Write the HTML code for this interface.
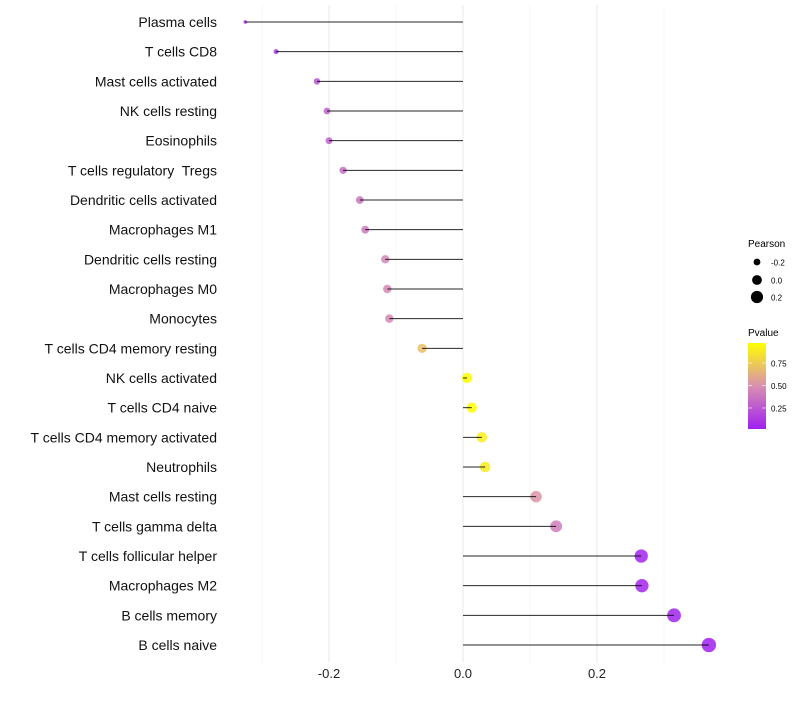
<!DOCTYPE html>
<html><head><meta charset="utf-8"><style>
body{margin:0;background:#fff;font-family:"Liberation Sans",sans-serif}
svg text{font-family:"Liberation Sans",sans-serif;white-space:pre}
</style></head><body>
<svg id="chart" width="800" height="700" xmlns="http://www.w3.org/2000/svg">
<defs><linearGradient id="pgrad" x1="0" y1="1" x2="0" y2="0">
<stop offset="0" stop-color="#a020f0"/><stop offset="0.5" stop-color="#d890b0"/><stop offset="1" stop-color="#ffff00"/></linearGradient></defs>
<g id="grid"></g><g id="marks"></g><g id="labels"></g>
<g>
<text x="748" y="247" font-size="10">Pearson</text>
<circle cx="757" cy="262" r="3.4" fill="#000"/>
<circle cx="757" cy="280" r="4.9" fill="#000"/>
<circle cx="757" cy="297" r="6.1" fill="#000"/>
<text x="771" y="265.5" font-size="8">-0.2</text>
<text x="771" y="283.5" font-size="8">0.0</text>
<text x="771" y="300.5" font-size="8">0.2</text>
</g>
<g>
<text x="748" y="336" font-size="10">Pvalue</text>
<rect x="748" y="343" width="18" height="86" fill="url(#pgrad)"/>
<g stroke="#fff" stroke-opacity="0.6"><line x1="748" x2="752" y1="363" y2="363"/><line x1="762" x2="766" y1="363" y2="363"/><line x1="748" x2="752" y1="385.5" y2="385.5"/><line x1="762" x2="766" y1="385.5" y2="385.5"/><line x1="748" x2="752" y1="408" y2="408"/><line x1="762" x2="766" y1="408" y2="408"/></g>
<text x="771" y="366.5" font-size="8">0.75</text>
<text x="771" y="389" font-size="8">0.50</text>
<text x="771" y="411.5" font-size="8">0.25</text>
</g>
</svg>
<script>
const cells=["Plasma cells","T cells CD8","Mast cells activated","NK cells resting","Eosinophils","T cells regulatory  Tregs","Dendritic cells activated","Macrophages M1","Dendritic cells resting","Macrophages M0","Monocytes","T cells CD4 memory resting","NK cells activated","T cells CD4 naive","T cells CD4 memory activated","Neutrophils","Mast cells resting","T cells gamma delta","T cells follicular helper","Macrophages M2","B cells memory","B cells naive"];
const pearson=[-0.325,-0.279,-0.218,-0.203,-0.200,-0.179,-0.154,-0.146,-0.116,-0.113,-0.110,-0.061,0.006,0.013,0.028,0.033,0.109,0.139,0.266,0.267,0.315,0.367];
const pvalues=[0.08,0.12,0.25,0.30,0.30,0.35,0.38,0.40,0.46,0.46,0.46,0.70,0.97,0.96,0.90,0.88,0.52,0.42,0.05,0.05,0.04,0.03];
const xTicks=[-0.2,0.0,0.2];
const xMinor=[-0.3,-0.1,0.1,0.3];
const NS="http://www.w3.org/2000/svg";
const X=v=>463+v*670;
const Y=i=>22+i*(623/21);
const R=v=>Math.sqrt(Math.max(1.5,3+70*(v+0.325)));
function lerp(a,b,t){return a.map((c,k)=>Math.round(c+(b[k]-c)*t));}
function col(p){const t=Math.min(1,Math.max(0,(p-0.028)/(0.97-0.028)));
 const lo=[160,32,240],mid=[216,144,176],hi=[255,255,0];
 const c=t<0.5?lerp(lo,mid,t/0.5):lerp(mid,hi,(t-0.5)/0.5);return `rgb(${c})`;}
function mk(tag,attrs,parent){const e=document.createElementNS(NS,tag);for(const k in attrs)e.setAttribute(k,attrs[k]);parent.appendChild(e);return e;}
const grid=document.getElementById('grid'),marks=document.getElementById('marks'),labels=document.getElementById('labels');
xMinor.forEach(v=>{const l=mk('line',{x1:X(v),x2:X(v),y1:5,y2:663,stroke:'#f2f2f2','stroke-width':0.6},grid);

});
xTicks.forEach(v=>{const l=mk('line',{x1:X(v),x2:X(v),y1:5,y2:663,stroke:'#ebebeb','stroke-width':1.1},grid);


const t=mk('text',{x:X(v),y:678,'font-size':13,'text-anchor':'middle',fill:'#222'},labels);t.textContent=v.toFixed(1);

});
cells.forEach((c,i)=>{const y=Y(i);
 const p=mk('circle',{cx:X(pearson[i]),cy:y,r:R(pearson[i]),fill:col(pvalues[i]),'fill-opacity':0.85},marks);
 
 
 const s=mk('line',{x1:X(0),x2:X(pearson[i]),y1:y,y2:y,stroke:'#000','stroke-width':1,'stroke-opacity':0.85},marks);
 
 
 const t=mk('text',{x:217,y:y+5,'font-size':14,'text-anchor':'end',fill:'#111','xml:space':'preserve'},labels);t.textContent=c;
 
 });
</script>
</body></html>
